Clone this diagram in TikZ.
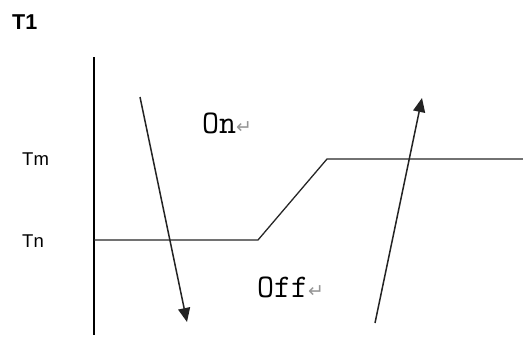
\documentclass[tikz,border=0pt]{standalone}
\usepackage{fontspec}
\setmainfont{Liberation Sans}
\newfontfamily\djv{DejaVu Sans}
\usetikzlibrary{arrows.meta}
\definecolor{markgray}{RGB}{150,150,150}
\definecolor{arrowgray}{RGB}{35,35,35}
\newcommand\parmk{{\color{markgray}\fontsize{19}{22}\selectfont\djv\char"21B5}}
\tikzset{
  axisline/.style={line width=1.4pt, black},
  levelline/.style={line width=1.3pt, black!85},
  flowarrow/.style={line width=1.5pt, arrowgray, -{Triangle[length=14pt,width=12pt]}},
  lbl/.style={inner sep=0pt, anchor=base west},
  titlelbl/.style={lbl, font=\fontsize{21.5}{25}\selectfont\bfseries},
  levellbl/.style={lbl, font=\fontsize{18.5}{22}\selectfont},
  statelbl/.style={lbl, font=\fontsize{33}{38}\selectfont\ttfamily}
}
\begin{document}
\begin{tikzpicture}[x=1pt,y=-1pt]
\useasboundingbox (0,0) rectangle (523,338);
% labels
\node[titlelbl] (t1) at (12,29) {T1};
\node[levellbl] (tm) at (22,165) {Tm};
\node[levellbl] (tn) at (22,247) {Tn};
\node[statelbl] (on) at (202,133) {On\parmk};
\node[statelbl] (off) at (257,297) {Off\parmk};
% axis
\coordinate (axtop) at (94,57);
\coordinate (axbot) at (94,335);
\draw[axisline] (axtop) -- (axbot);
% level curve
\coordinate (c0) at (94,240);
\coordinate (c1) at (258,240);
\coordinate (c2) at (327,159);
\coordinate (c3) at (523,159);
\draw[levelline] (c0) -- (c1) -- (c2) -- (c3);
% arrows
\coordinate (d0) at (140,97);
\coordinate (d1) at (187,322);
\draw[flowarrow] (d0) -- (d1);
\coordinate (u0) at (375,323);
\coordinate (u1) at (422,98);
\draw[flowarrow] (u0) -- (u1);
\end{tikzpicture}
\end{document}
